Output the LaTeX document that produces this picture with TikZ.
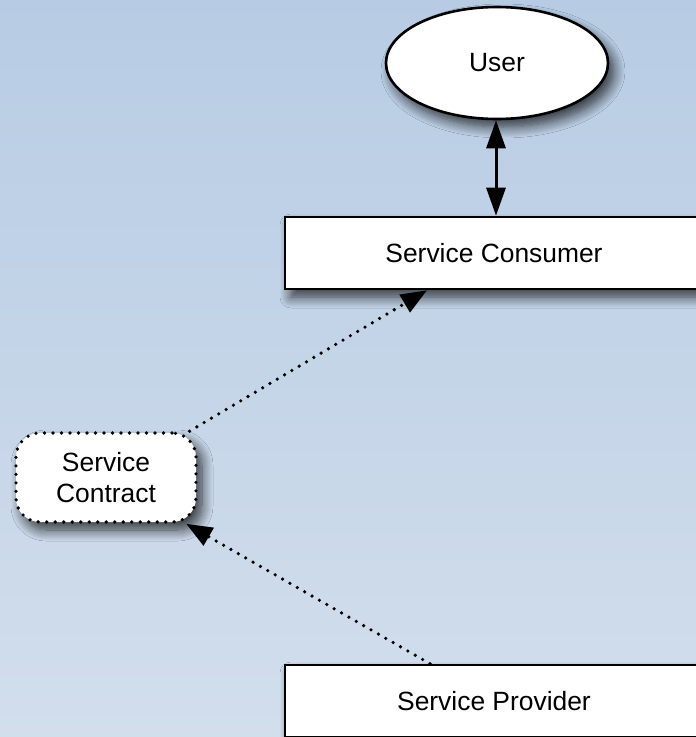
\documentclass[tikz,border=0pt]{standalone}
\usepackage{fontspec}
\setmainfont{Liberation Sans}
\usetikzlibrary{shapes.geometric,shadows.blur,arrows.meta}
\definecolor{bgtop}{RGB}{183,204,228}
\definecolor{bgbot}{RGB}{210,222,236}
\begin{document}
\begin{tikzpicture}[x=1pt,y=-1pt,
  lbl/.style={font=\fontsize{26.4}{31}\selectfont, text=black},
  softshadow/.style={blur shadow={shadow xshift=6pt, shadow yshift=-8pt,
      shadow blur radius=11pt, shadow blur steps=12, shadow opacity=75}},
  boxnode/.style={lbl, draw=black, line width=2.6pt, fill=white, softshadow,
      minimum width=418pt, minimum height=72pt, inner sep=0pt},
  ovalnode/.style={lbl, ellipse, draw=black, line width=2.6pt, fill=white, softshadow,
      minimum width=222pt, minimum height=112pt, inner sep=0pt},
  dotborder/.style={line width=3.6pt, line cap=round, dash pattern=on 0pt off 8.5pt},
  contractnode/.style={lbl, align=center, draw=black, dotborder, fill=white, softshadow,
      rounded corners=24pt, minimum width=180pt, minimum height=89pt, inner sep=0pt},
  solidlink/.style={line width=3pt, {Triangle[length=28pt,width=19pt]}-{Triangle[length=28pt,width=19pt]}},
  dottedlink/.style={dotborder, -{Triangle[length=26pt,width=20pt]}},
]
\useasboundingbox (0,0) rectangle (696,737);
\clip (0,0) rectangle (696,737);
% background gradient
\shade[top color=bgtop, bottom color=bgbot] (0,0) rectangle (696,737);

% nodes
\node[ovalnode] (user) at (497,63) {User};
\node[boxnode] (cons) at (494,253) {Service Consumer};
\node[boxnode] (prov) at (494,701) {Service Provider};
\node[contractnode] (contract) at (106,477.5) {Service\\Contract};

% connectors
\draw[solidlink] ([xshift=-1pt]user.south) -- ([xshift=-1pt]user.south |- cons.north);
\draw[dottedlink] (contract.29) -- ([xshift=-67pt]cons.south);
\draw[dottedlink] ([xshift=-64pt]prov.north) -- (contract.-30);
\end{tikzpicture}
\end{document}
